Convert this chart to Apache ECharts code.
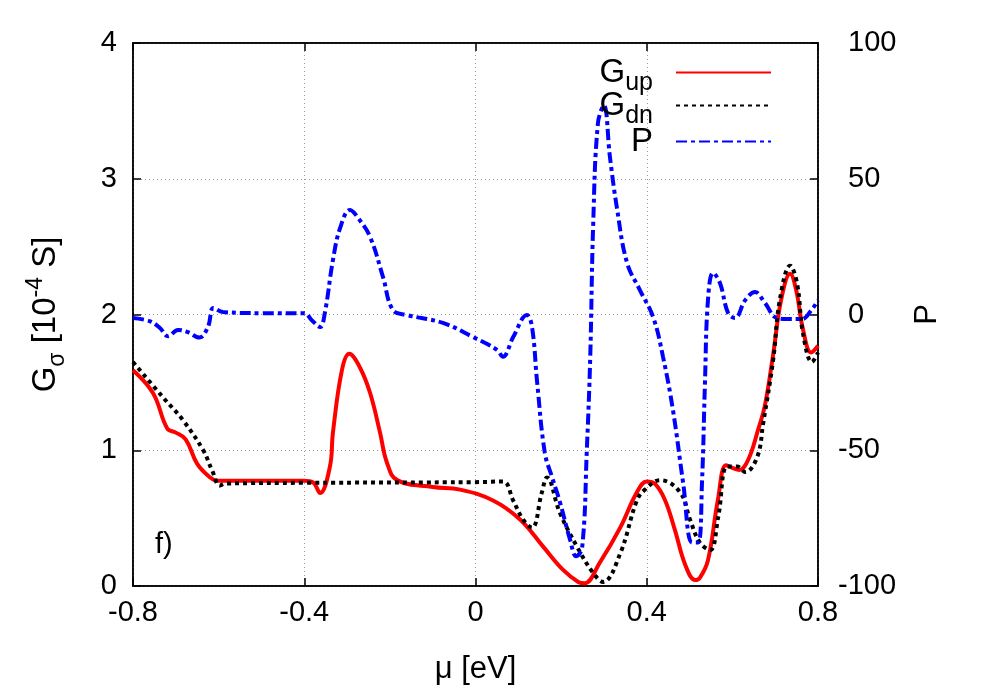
<!DOCTYPE html>
<html>
<head>
<meta charset="utf-8">
<script src="https://cdn.jsdelivr.net/npm/echarts@6/dist/echarts.min.js"></script>
<style>
  html, body { margin: 0; padding: 0; background: #fff; }
  #chart { width: 1000px; height: 700px; }
</style>
</head>
<body>
<div id="chart"></div>
<script>
// values
const upX = [-0.8, -0.753, -0.72, -0.7, -0.677, -0.65, -0.62, -0.604, -0.5, -0.4, -0.38, -0.363, -0.34, -0.333, -0.312, -0.295, -0.27, -0.246, -0.223, -0.207, -0.183, -0.1, -0.036, 0.041, 0.104, 0.158, 0.204, 0.24, 0.255, 0.29, 0.338, 0.377, 0.4, 0.42, 0.443, 0.466, 0.49, 0.513, 0.524, 0.543, 0.566, 0.585, 0.6, 0.616, 0.637, 0.66, 0.676, 0.695, 0.714, 0.735, 0.749, 0.765, 0.784, 0.8];
const upY = [1.59, 1.42, 1.16, 1.13, 1.08, 0.90, 0.80, 0.775, 0.775, 0.775, 0.765, 0.685, 0.88, 1.13, 1.59, 1.71, 1.61, 1.42, 1.13, 0.91, 0.78, 0.73, 0.71, 0.63, 0.49, 0.29, 0.12, 0.03, 0.02, 0.17, 0.43, 0.69, 0.77, 0.75, 0.63, 0.41, 0.155, 0.044, 0.06, 0.19, 0.63, 0.89, 0.87, 0.855, 0.93, 1.15, 1.33, 1.70, 2.11, 2.30, 2.18, 1.89, 1.72, 1.77];

const dnX = [-0.8, -0.73, -0.683, -0.636, -0.615, -0.597, -0.585, -0.4, 0, 0.064, 0.088, 0.111, 0.132, 0.155, 0.167, 0.197, 0.237, 0.274, 0.298, 0.338, 0.377, 0.396, 0.431, 0.478, 0.501, 0.524, 0.548, 0.567, 0.588, 0.611, 0.63, 0.658, 0.672, 0.695, 0.711, 0.735, 0.751, 0.765, 0.786, 0.8];
const dnY = [1.65, 1.39, 1.22, 1.00, 0.85, 0.74, 0.755, 0.76, 0.765, 0.77, 0.63, 0.49, 0.43, 0.69, 0.80, 0.54, 0.29, 0.10, 0.03, 0.24, 0.63, 0.71, 0.78, 0.69, 0.49, 0.32, 0.265, 0.51, 0.88, 0.88, 0.84, 0.95, 1.20, 1.66, 2.11, 2.36, 2.23, 1.86, 1.65, 1.72];

const polX = [-0.8, -0.76, -0.737, -0.718, -0.695, -0.672, -0.645, -0.625, -0.612, -0.59, -0.5, -0.4, -0.383, -0.363, -0.352, -0.333, -0.316, -0.293, -0.274, -0.246, -0.216, -0.193, -0.16, -0.076, -0.006, 0.05, 0.064, 0.088, 0.12, 0.132, 0.144, 0.162, 0.179, 0.197, 0.221, 0.235, 0.249, 0.26, 0.268, 0.275, 0.286, 0.3, 0.314, 0.33, 0.354, 0.384, 0.415, 0.438, 0.461, 0.485, 0.506, 0.52, 0.529, 0.536, 0.543, 0.555, 0.571, 0.59, 0.606, 0.63, 0.653, 0.675, 0.704, 0.73, 0.762, 0.785, 0.8];
const polY = [-1.3, -2.5, -5, -8, -5.7, -6.5, -8.5, -4.6, 2.4, 0.9, 0.5, 0.5, -2, -4.6, 0.5, 20, 32, 38.5, 35.5, 28.5, 13.8, 1.7, -0.2, -3.1, -8.3, -13, -15.6, -8.3, -0.2, -4.6, -25, -51, -60, -69, -83, -89, -86, -50, -15.6, 33.7, 70.5, 77, 58, 39.6, 19, 9, -1, -15.6, -35, -62, -84, -84, -62, -25, 5.3, 15.3, 11.6, 0.5, -1.3, 5.3, 8.3, 4.5, -1.3, -1.7, -1.7, 1.7, 5.3];

const xTicks = [-0.8, -0.4, 0, 0.4, 0.8];
const seriesNames = ['G_up', 'G_dn', 'P'];

const FONT = 'Liberation Sans';
const pairs = (xs, ys) => xs.map((x, i) => [x, ys[i]]);

const legendText = {
  G_up: '{g|G}{s|up}',
  G_dn: '{g|G}{s|dn}',
  P: '{g|P}'
};
const legendRich = {
  g: { fontFamily: FONT, fontSize: 33, color: '#000', lineHeight: 44 },
  s: { fontFamily: FONT, fontSize: 25, color: '#000', lineHeight: 22, padding: [22, 0, 0, 0] }
};

function makeLegend(name, top) {
  return {
    data: [name],
    orient: 'vertical',
    right: 228,
    top: top,
    padding: 0,
    align: 'right',
    itemWidth: 95,
    itemHeight: 20,
    itemGap: 0,
    selectedMode: false,
    itemStyle: { opacity: 0 },
    formatter: (n) => legendText[n],
    textStyle: { fontFamily: FONT, color: '#000', padding: [0, 18, 0, 0], rich: legendRich }
  };
}

const axisLineStyle = { show: true, onZero: false, lineStyle: { color: '#000', width: 1.5 } };
const tickStyle = { show: true, inside: true, length: 8, lineStyle: { color: '#000', width: 1.5 } };
const gridLine = { show: true, lineStyle: { color: '#999', type: [1, 3], width: 1 } };

const chart = echarts.init(document.getElementById('chart'), null, { renderer: 'canvas' });

chart.setOption({
  animation: false,
  backgroundColor: '#fff',
  textStyle: { fontFamily: FONT },
  grid: {
    left: 133, right: 182, top: 43, bottom: 114,
    show: true, borderColor: '#000', borderWidth: 1.5, backgroundColor: 'transparent'
  },
  legend: [makeLegend('G_up', 49), makeLegend('G_dn', 82), makeLegend('P', 125)],
  xAxis: [
    {
      type: 'value', min: -0.8, max: 0.8, interval: 0.4,
      name: 'μ [eV]', nameLocation: 'middle', nameGap: 68,
      nameTextStyle: { fontFamily: FONT, fontSize: 31, color: '#000' },
      axisLine: axisLineStyle,
      axisTick: tickStyle,
      axisLabel: {
        fontFamily: FONT, fontSize: 29, color: '#000', margin: 12,
        formatter: (v) => {
          const t = xTicks.find((k) => Math.abs(k - v) < 1e-6);
          return t === undefined ? '' : String(t);
        }
      },
      splitLine: gridLine
    },
    {
      type: 'value', min: -0.8, max: 0.8, interval: 0.4, position: 'top',
      axisLine: axisLineStyle,
      axisTick: tickStyle,
      axisLabel: { show: false },
      splitLine: { show: false }
    }
  ],
  yAxis: [
    {
      type: 'value', min: 0, max: 4, interval: 1, position: 'left',
      name: '{t|G}{s|σ}{t| [10}{p|-4}{t| S]}',
      nameLocation: 'middle', nameGap: 64, nameRotate: 90,
      nameTextStyle: {
        fontFamily: FONT, color: '#000',
        rich: {
          t: { fontFamily: FONT, fontSize: 33, color: '#000', lineHeight: 46 },
          s: { fontFamily: FONT, fontSize: 23, color: '#000', lineHeight: 23, padding: [23, 0, 0, 0] },
          p: { fontFamily: FONT, fontSize: 23, color: '#000', lineHeight: 23, padding: [0, 0, 21, 0] }
        }
      },
      axisLine: axisLineStyle,
      axisTick: tickStyle,
      axisLabel: { fontFamily: FONT, fontSize: 29, color: '#000', margin: 16 },
      splitLine: gridLine
    },
    {
      type: 'value', min: -100, max: 100, interval: 50, position: 'right',
      name: 'P', nameLocation: 'middle', nameGap: 94, nameRotate: 90,
      nameTextStyle: { fontFamily: FONT, fontSize: 31, color: '#000' },
      axisLine: axisLineStyle,
      axisTick: tickStyle,
      axisLabel: {
        fontFamily: FONT, fontSize: 29, color: '#000', margin: 20, align: 'left',
        formatter: (v) => (v < 0 ? String(v) : '{q|' + v + '}'),
        rich: { q: { fontFamily: FONT, fontSize: 29, color: '#000', padding: [0, 0, 0, 10] } }
      },
      splitLine: { show: false }
    }
  ],
  graphic: [
    {
      type: 'text', left: 155, top: 530,
      style: { text: 'f)', fontFamily: FONT, fontSize: 29, fill: '#000' }
    }
  ],
  series: [
    {
      name: seriesNames[0], type: 'line', xAxisIndex: 0, yAxisIndex: 0,
      data: pairs(upX, upY), symbol: 'none', smooth: 0.4,
      lineStyle: { color: '#ff0000', width: 4 }, itemStyle: { color: '#ff0000' }
    },
    {
      name: seriesNames[1], type: 'line', xAxisIndex: 0, yAxisIndex: 0,
      data: pairs(dnX, dnY), symbol: 'none', smooth: 0.4,
      lineStyle: { color: '#000', width: 4, type: [4, 4] }, itemStyle: { color: '#000' }
    },
    {
      name: seriesNames[2], type: 'line', xAxisIndex: 0, yAxisIndex: 1,
      data: pairs(polX, polY), symbol: 'none', smooth: 0.4,
      lineStyle: { color: '#0000ff', width: 4, type: [11, 4, 4, 4] }, itemStyle: { color: '#0000ff' }
    }
  ]
});
</script>
</body>
</html>
